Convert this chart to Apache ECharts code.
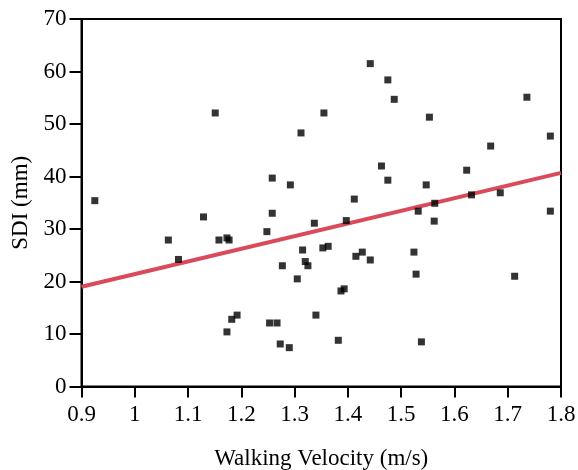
<!DOCTYPE html>
<html>
<head>
<meta charset="utf-8">
<script src="https://cdn.jsdelivr.net/npm/echarts@6/dist/echarts.min.js"></script>
<style>html,body{margin:0;padding:0;background:#fff;}#c{width:578px;height:470px;}</style>
</head>
<body>
<div id="c"></div>
<script>
var velocity = [0.925,1.063,1.082,1.129,1.151,1.158,1.173,1.177,1.173,1.182,1.192,1.248,1.253,1.267,1.258,1.258,1.273,1.277,1.290,1.292,1.305,1.312,1.315,1.320,1.325,1.337,1.340,1.353,1.355,1.363,1.382,1.387,1.393,1.397,1.412,1.415,1.427,1.442,1.442,1.463,1.475,1.475,1.487,1.524,1.528,1.532,1.538,1.547,1.553,1.562,1.563,1.623,1.632,1.668,1.686,1.713,1.736,1.780,1.780];
var sdi = [35.4,27.9,24.2,32.3,52.1,27.9,28.3,27.9,10.4,12.8,13.6,29.5,12.1,12.1,39.7,33.0,8.1,23.0,7.4,38.4,20.5,48.3,26.0,23.8,23.0,31.1,13.6,26.4,52.1,26.7,8.8,18.2,18.6,31.6,35.7,24.8,25.6,24.1,61.5,42.0,58.4,39.3,54.7,25.6,21.4,33.4,8.5,38.4,51.3,31.5,34.9,41.2,36.5,45.8,36.9,21.0,55.1,47.7,33.4];
var fitX = [0.9, 1.8];
var fitY = [19.0, 40.7];

var points = velocity.map(function(v, i){ return [v, sdi[i]]; });
var fit = fitX.map(function(v, i){ return [v, fitY[i]]; });

var font = "'Liberation Serif', 'DejaVu Serif', serif";
var chart = echarts.init(document.getElementById('c'));
chart.setOption({
  animation: false,
  backgroundColor: '#fff',
  textStyle: { fontFamily: font, color: '#000' },
  grid: { left: 81.5, right: 17, top: 19, bottom: 83.5, outerBoundsMode: 'none', containLabel: false, show: true, borderColor: '#000', borderWidth: 2, backgroundColor: 'transparent' },
  xAxis: {
    type: 'value', min: 0.9, max: 1.8, interval: 0.1,
    name: 'Walking Velocity (m/s)', nameLocation: 'middle', nameGap: 61,
    nameTextStyle: { fontFamily: font, fontSize: 23, color: '#000' },
    axisLine: { show: true, lineStyle: { color: '#000', width: 2 } },
    axisTick: { show: true, inside: false, length: 11, lineStyle: { color: '#000', width: 2 } },
    axisLabel: { fontFamily: font, fontSize: 23, color: '#000', margin: 17 },
    splitLine: { show: false }
  },
  yAxis: {
    type: 'value', min: 0, max: 70, interval: 10,
    name: 'SDI (mm)', nameLocation: 'middle', nameGap: 47, nameRotate: 90,
    nameTextStyle: { fontFamily: font, fontSize: 23, color: '#000' },
    axisLine: { show: true, lineStyle: { color: '#000', width: 2 } },
    axisTick: { show: true, inside: false, length: 12, lineStyle: { color: '#000', width: 2 } },
    axisLabel: { fontFamily: font, fontSize: 23, color: '#000', margin: 15 },
    splitLine: { show: false }
  },
  series: [
    {
      type: 'line', data: fit, symbol: 'none', silent: true,
      lineStyle: { color: '#d94a5a', width: 4 }, z: 2
    },
    {
      type: 'scatter', data: points, symbol: 'rect', symbolSize: 7,
      itemStyle: { color: '#000' }, z: 3
    }
  ]
});
</script>
</body>
</html>
